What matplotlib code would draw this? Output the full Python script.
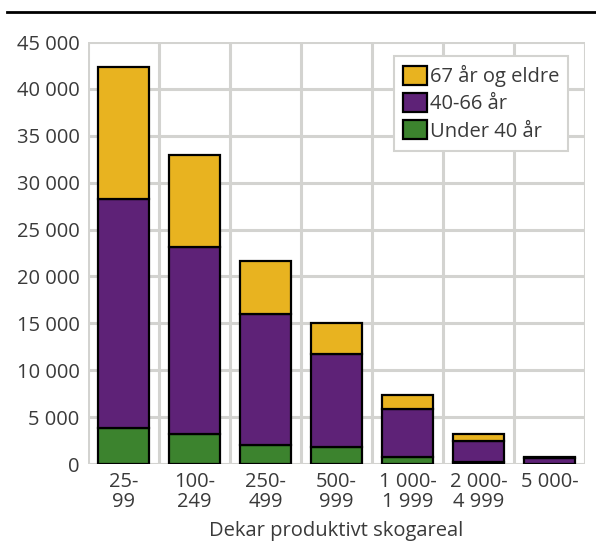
import numpy as np
import matplotlib
matplotlib.use('Agg')
import matplotlib.pyplot as plt
from matplotlib.lines import Line2D

plt.rcParams['font.family'] = ['Open Sans', 'DejaVu Sans']

# Antall skogeiere etter areal og alder
categories = ['25-\n99', '100-\n249', '250-\n499', '500-\n999',
              '1 000-\n1 999', '2 000-\n4 999', '5 000-']
under40 = [3850, 3200, 2000, 1800, 750, 250, 40]
age40_66 = [24400, 19900, 14000, 9900, 5150, 2200, 560]
over67 = [14050, 9800, 5700, 3300, 1500, 750, 100]

c_yellow = '#E8B320'
c_purple = '#5E2277'
c_green = '#3C832E'
grid_col = '#D3D3D0'
txt_col = '#3A3A3A'

fig = plt.figure(figsize=(5.96, 5.47), dpi=100)
ax = fig.add_axes([88/596, 1-464/547, (585-88)/596, (464-42)/547])

x = np.arange(len(categories))
w = 0.72
b1 = np.array(under40)
b2 = b1 + np.array(age40_66)
ax.bar(x, under40, w, color=c_green, edgecolor='black', linewidth=1.6, zorder=3)
ax.bar(x, age40_66, w, bottom=b1, color=c_purple, edgecolor='black', linewidth=1.6, zorder=3)
ax.bar(x, over67, w, bottom=b2, color=c_yellow, edgecolor='black', linewidth=1.6, zorder=3)

ax.set_xlim(-0.5, len(categories)-0.5)
ax.set_ylim(0, 45000)
yt = np.arange(0, 45001, 5000)
ax.set_yticks(yt)
ax.set_yticklabels(['{:,}'.format(v).replace(',', ' ') for v in yt])
ax.set_xticks(x)
ax.set_xticklabels(categories, linespacing=0.95)
ax.set_xticks(np.arange(-0.5, len(categories), 1), minor=True)
ax.tick_params(which='both', length=0, labelsize=14.5, colors=txt_col)
ax.tick_params(axis='x', pad=6)
ax.tick_params(axis='y', pad=6)
ax.grid(axis='y', which='major', color=grid_col, linewidth=2.2, zorder=0)
ax.grid(axis='x', which='minor', color=grid_col, linewidth=2.2, zorder=0)
for s in ax.spines.values():
    s.set_visible(False)

ax.set_xlabel('Dekar produktivt skogareal', fontsize=14.5, color=txt_col, labelpad=7)

handles = [plt.Rectangle((0, 0), 1, 1, facecolor=c, edgecolor='black', linewidth=1.6)
           for c in (c_yellow, c_purple, c_green)]
leg = ax.legend(handles, ['67 år og eldre', '40-66 år', 'Under 40 år'],
                loc='upper right', bbox_to_anchor=(0.966, 0.967), borderaxespad=0,
                fontsize=14.5, frameon=True, fancybox=False, framealpha=1,
                edgecolor=grid_col, handlelength=1.15, handleheight=1.05,
                handletextpad=0.15, labelspacing=0.3, borderpad=0.45,
                labelcolor=txt_col)
leg.get_frame().set_linewidth(1.5)
leg.set_zorder(5)

fig.add_artist(Line2D([7/596, 1], [1-12/547, 1-12/547], color='black', linewidth=2))

fig.savefig('out.png', dpi=100)
